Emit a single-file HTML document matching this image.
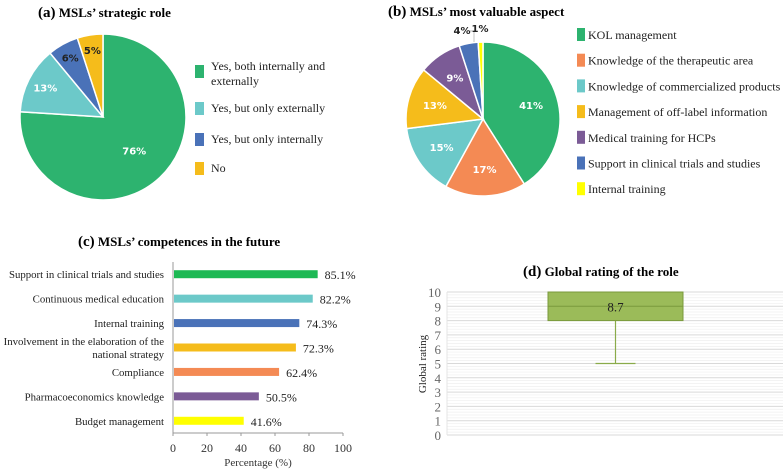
<!DOCTYPE html>
<html><head><meta charset="utf-8"><style>
body{margin:0;background:#fff;width:784px;height:469px;overflow:hidden;font-family:"Liberation Serif",serif}
svg{position:absolute;left:0;top:0}
</style></head><body>
<svg id="s" width="784" height="469" xmlns="http://www.w3.org/2000/svg">
<text x="38" y="17" font-size="13" font-weight="bold"><tspan font-size="15">(a)</tspan> MSLs’ strategic role</text>
<text x="388" y="16" font-size="13" font-weight="bold"><tspan font-size="15">(b)</tspan> MSLs’ most valuable aspect</text>
<text x="78" y="246" font-size="13" font-weight="bold"><tspan font-size="15">(c)</tspan> MSLs’ competences in the future</text>
<text x="523" y="276" font-size="13" font-weight="bold"><tspan font-size="15">(d)</tspan> Global rating of the role</text>
<g id="ga"></g><g id="gb"></g><g id="gc"></g><g id="gd"></g>
</svg>
<script>
const aLabels=["Yes, both internally and externally","Yes, but only externally","Yes, but only internally","No"];
const aValues=[76,13,6,5];
const aColors=["#2db36f","#6cc9c9","#4a72b8","#f5bc1b"];
const bLabels=["KOL management","Knowledge of the therapeutic area","Knowledge of commercialized products","Management of off-label information","Medical training for HCPs","Support in clinical trials and studies","Internal training"];
const bValues=[41,17,15,13,9,4,1];
const bColors=["#2db36f","#f48a54","#6cc9c9","#f5bc1b","#7b5b96","#4a72b8","#ffff00"];
const cCats=["Support in clinical trials and studies","Continuous medical education","Internal training","Involvement in the elaboration of the|national strategy","Compliance","Pharmacoeconomics knowledge","Budget management"];
const cValues=[85.1,82.2,74.3,72.3,62.4,50.5,41.6];
const cColors=["#1db954","#6cc9c9","#4a72b8","#f5bc1b","#f48a54","#7b5b96","#ffff00"];
const cTicks=[0,20,40,60,80,100];
const dTicks=[0,1,2,3,4,5,6,7,8,9,10];
const dBox={min:5,q1:8,median:9,q3:10,max:10,mean:8.7};
const NS="http://www.w3.org/2000/svg";
function mk(p,t,a,txt){const e=document.createElementNS(NS,t);for(const k in a)e.setAttribute(k,a[k]);if(txt!==undefined)e.textContent=txt;p.appendChild(e);return e;}
function pie(g,cx,cy,r,vals,cols,labFn){
 const tot=vals.reduce((a,b)=>a+b,0);let ang=0;
 vals.forEach((v,i)=>{const a0=ang/tot*2*Math.PI,a1=(ang+v)/tot*2*Math.PI;ang+=v;
  const x0=cx+r*Math.sin(a0),y0=cy-r*Math.cos(a0),x1=cx+r*Math.sin(a1),y1=cy-r*Math.cos(a1);
  const p=mk(g,"path",{d:`M${cx},${cy}L${x0},${y0}A${r},${r} 0 ${a1-a0>Math.PI?1:0} 1 ${x1},${y1}Z`,fill:cols[i],stroke:"#fff","stroke-width":1.5});
  
  
  labFn(i,v,(a0+a1)/2);});
}
// Pie A
const ga=document.getElementById("ga");
pie(ga,103,117,83,aValues,aColors,(i,v,m)=>{
 const rr=i==0?0.55:(i==1?0.78:0.82);
 const t=mk(ga,"text",{x:103+83*rr*Math.sin(m),y:117-83*rr*Math.cos(m)+4,"text-anchor":"middle","font-family":"DejaVu Sans, sans-serif","font-size":10,"font-weight":"bold",fill:i<2?"#fff":"#222"},v+"%");
 
 });
const aLY=[72,109,140,169];
aLabels.forEach((l,i)=>{const r=mk(ga,"rect",{x:195,y:aLY[i]-7,width:9,height:13,fill:aColors[i]});
 
 
 const t=mk(ga,"text",{x:211,y:aLY[i]+3,"font-size":12,fill:"#222"});
 
 
 if(i==0){mk(t,"tspan",{x:211,y:aLY[i]-2},"Yes, both internally and");mk(t,"tspan",{x:211,y:aLY[i]+13},"externally");}else t.textContent=l;});
// Pie B
const gb=document.getElementById("gb");
pie(gb,483,119,77,bValues,bColors,(i,v,m)=>{
 let rr=0.65,x=483+77*rr*Math.sin(m),y=119-77*rr*Math.cos(m)+4,fill="#fff";
 if(i==5){x=462;y=34;fill="#222";mk(gb,"polyline",{points:"470,31 474,31 474,42",fill:"none",stroke:"#aaa","stroke-width":0.7});}
 if(i==6){x=480;y=32;fill="#222";}
 const t=mk(gb,"text",{x:x,y:y,"text-anchor":"middle","font-family":"DejaVu Sans, sans-serif","font-size":10,"font-weight":"bold",fill:fill},v+"%");
 
 });
bLabels.forEach((l,i)=>{const y=34+i*25.7;
 const r=mk(gb,"rect",{x:577,y:y-6,width:8,height:13,fill:bColors[i]});
 
 
 const t=mk(gb,"text",{x:588,y:y+5,"font-size":12,fill:"#222"},l);
 
 });
// Bar C
const gc=document.getElementById("gc");
const cx0=173,cx1=343,cyTop=262,cyBot=433,band=(cyBot-cyTop)/cCats.length;
const xs=v=>cx0+(cx1-cx0)*v/100;
mk(gc,"line",{x1:cx0,y1:cyTop,x2:cx0,y2:cyBot,stroke:"#999"});
mk(gc,"line",{x1:cx0,y1:cyBot,x2:cx1,y2:cyBot,stroke:"#999"});
cTicks.forEach(t=>{mk(gc,"line",{x1:xs(t),y1:cyBot,x2:xs(t),y2:cyBot+3,stroke:"#999"});
 const e=mk(gc,"text",{x:xs(t),y:452,"text-anchor":"middle","font-size":12,fill:"#333"},t);
 
 });
const xt=mk(gc,"text",{x:258,y:466,"text-anchor":"middle","font-size":11,fill:"#333"},"Percentage (%)");


cCats.forEach((c,i)=>{const y=cyTop+band*(i+0.5);
 const b=mk(gc,"rect",{x:cx0+1,y:y-4,width:xs(cValues[i])-cx0-1,height:8,fill:cColors[i]});
 
 
 const v=mk(gc,"text",{x:xs(cValues[i])+7,y:y+5,"font-size":12,fill:"#222"},cValues[i]+"%");
 
 
 const parts=c.split("|");
 parts.forEach((p,j)=>{const t=mk(gc,"text",{x:164,y:y+4+(j-(parts.length-1)/2)*13,"text-anchor":"end","font-size":10.8,fill:"#222"},p);
  
  });});
// Box D
const gd=document.getElementById("gd");
const dx0=447,dx1=783,dy0=435,dy10=292;
const ys=v=>dy0+(dy10-dy0)*v/10;
for(let k=0;k<=50;k++){const v=k/5;mk(gd,"line",{x1:dx0,y1:ys(v),x2:dx1,y2:ys(v),stroke:k%5==0?"#d9d9d9":"#efefef","stroke-width":k%5==0?1:0.7});}
mk(gd,"line",{x1:dx0,y1:dy10,x2:dx0,y2:dy0,stroke:"#e4e4e4"});
dTicks.forEach(t=>{const e=mk(gd,"text",{x:441,y:ys(t)+5,"text-anchor":"end","font-family":"Liberation Serif, serif","font-size":13,fill:"#666"},t);
 
 });
const yt=mk(gd,"text",{x:0,y:0,transform:"translate(426,364) rotate(-90)","text-anchor":"middle","font-size":11,fill:"#222"},"Global rating");


const bx0=548,bx1=683,bm=(bx0+bx1)/2;
mk(gd,"line",{x1:bm,y1:ys(dBox.q1),x2:bm,y2:ys(dBox.min),stroke:"#8aab4a","stroke-width":1.2});
mk(gd,"line",{x1:bm-20,y1:ys(dBox.min),x2:bm+20,y2:ys(dBox.min),stroke:"#8aab4a","stroke-width":1.2});
const bx=mk(gd,"rect",{x:bx0,y:ys(dBox.q3),width:bx1-bx0,height:ys(dBox.q1)-ys(dBox.q3),fill:"#9bbb59",stroke:"#7a9a3c"});


mk(gd,"line",{x1:bx0,y1:ys(dBox.median),x2:bx1,y2:ys(dBox.median),stroke:"#7a9a3c"});
const mt=mk(gd,"text",{x:bm,y:ys(dBox.median)+5,"text-anchor":"middle","font-size":13,fill:"#222"},dBox.mean);


</script>
</body></html>
